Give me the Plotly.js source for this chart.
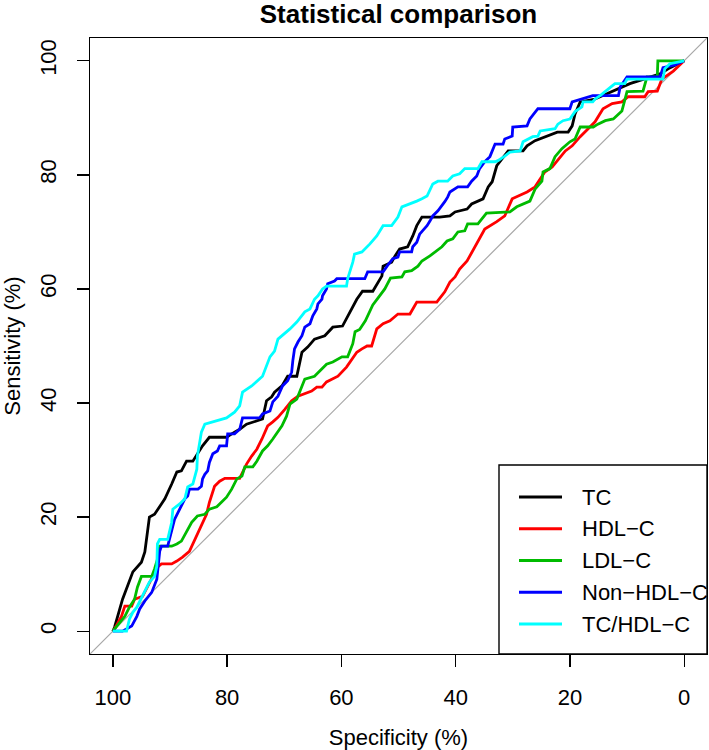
<!DOCTYPE html>
<html>
<head>
<meta charset="utf-8">
<script src="https://cdn.plot.ly/plotly-3.0.1.min.js"></script>
<style>html,body{margin:0;padding:0;background:#fff;}#chart{width:709px;height:750px;}</style>
</head>
<body>
<div id="chart"></div>
<script>
// ---- Data: [specificity %, sensitivity %] ----
const seriesNames = ["TC", "HDL\u2212C", "LDL\u2212C", "Non\u2212HDL\u2212C", "TC/HDL\u2212C"];
const seriesColors = ["#000000", "#ff0000", "#00bb00", "#0000ff", "#00ffff"];

const tcPoints = [[100,0],[99.7,0.7],[98.3,5.6],[96.5,10.4],[95.0,12.1],[94.4,13.9],[93.6,20.0],[92.7,20.5],[91.5,22.3],[90.9,23.2],[89.7,25.8],[88.8,27.9],[88.0,28.1],[87.1,29.8],[86.0,29.8],[84.8,31.6],[84.3,32.5],[83.1,34.0],[80.1,34.0],[79.2,34.6],[77.8,35.4],[76.6,36.3],[73.8,37.2],[73.1,40.4],[72.2,41.1],[71.7,41.9],[70.4,43.0],[69.4,44.7],[67.8,44.7],[66.9,48.9],[65.9,49.8],[64.7,51.2],[62.9,51.8],[61.5,53.3],[59.8,53.5],[57.3,58.2],[56.3,59.6],[54.5,59.6],[52.9,62.3],[52.7,64.0],[51.2,64.7],[50.6,65.8],[49.8,67.0],[48.4,67.4],[47.5,69.3],[46.8,71.1],[45.9,72.6],[42.8,72.6],[41.0,72.8],[40.1,73.5],[38.0,74.0],[37.2,74.9],[36.1,75.4],[35.2,75.8],[34.3,77.9],[33.6,78.8],[32.8,81.6],[31.9,82.8],[30.8,84.2],[28.2,84.2],[27.5,85.1],[26.1,86.0],[24.0,86.8],[22.2,87.5],[20.3,87.5],[19.6,88.6],[19.1,90.7],[18.2,92.8],[15.6,93.3],[12.9,94.5],[9.5,96.0],[4.2,97.7],[2.8,98.6],[0,100]];

const hdlPoints = [[100,0],[99.7,0.4],[98.5,2.6],[97.9,4.4],[96.7,4.4],[96.2,5.6],[94.8,6.1],[93.9,7.9],[93.0,9.6],[92.2,11.2],[91.5,11.8],[89.7,11.8],[88.8,12.3],[87.8,13.0],[86.6,14.0],[85.3,16.7],[84.5,18.4],[83.6,20.5],[83.1,22.6],[82.2,25.4],[81.3,26.3],[80.4,26.8],[77.8,26.8],[77.3,27.9],[76.6,29.3],[75.7,30.7],[74.8,31.9],[73.9,33.7],[72.9,36.0],[72.0,36.7],[71.1,37.5],[69.9,38.9],[68.7,40.4],[67.6,41.2],[66.4,41.6],[65.2,42.1],[64.3,42.8],[63.4,42.8],[62.6,43.7],[61.5,44.2],[60.6,44.7],[59.1,46.3],[58.5,47.2],[57.3,48.9],[56.4,49.5],[55.5,50.0],[54.7,50.0],[53.8,53.0],[52.7,53.9],[51.5,54.4],[50.1,55.6],[48.0,55.6],[46.8,57.7],[43.3,57.7],[41.9,59.5],[41.0,61.2],[40.1,62.1],[39.3,63.5],[38.0,64.9],[36.6,67.5],[35.4,69.6],[34.9,70.5],[32.8,71.8],[31.4,72.8],[30.1,75.8],[27.5,77.0],[26.1,77.9],[24.4,80.5],[23.1,81.4],[21.7,83.2],[20.8,84.2],[19.6,85.1],[18.2,86.7],[16.8,88.1],[15.6,89.3],[14.2,91.6],[12.6,92.5],[10.9,92.8],[9.8,93.7],[6.9,93.7],[6.3,94.6],[4.7,94.7],[3.9,96.8],[1.9,98.2],[0,100]];

const ldlPoints = [[100,0],[99.7,0.4],[98.8,1.6],[97.9,2.6],[97.1,4.2],[96.2,5.6],[95.7,7.7],[95.0,9.6],[93.2,9.6],[92.7,10.9],[92.2,12.6],[91.8,14.9],[89.7,14.9],[88.8,15.3],[88.0,15.8],[87.1,17.4],[86.2,19.1],[85.2,20.2],[83.9,20.5],[83.1,21.4],[81.8,21.8],[81.0,22.6],[80.1,23.5],[79.2,24.9],[78.3,26.7],[77.4,27.2],[76.9,28.8],[75.5,28.8],[74.8,29.8],[73.8,31.6],[72.9,32.5],[72.0,33.7],[70.4,36.0],[69.6,37.7],[69.0,39.8],[67.8,40.7],[66.9,42.8],[66.4,44.2],[64.7,44.7],[63.4,46.0],[62.6,46.8],[61.5,47.2],[59.9,48.1],[58.9,48.1],[58.0,50.4],[57.6,52.5],[56.8,52.9],[55.8,54.4],[54.5,57.2],[53.6,58.4],[52.4,60.0],[51.4,61.9],[49.4,62.1],[48.9,63.0],[47.7,63.2],[46.6,64.0],[45.9,64.9],[44.5,65.8],[43.6,66.5],[42.4,67.4],[41.5,68.4],[40.5,68.8],[39.6,70.0],[38.4,70.2],[37.9,71.4],[36.1,71.4],[34.6,73.3],[30.5,73.5],[29.3,74.4],[28.2,74.9],[27.0,75.4],[26.1,77.5],[24.9,78.9],[24.7,80.5],[23.5,81.1],[22.6,83.2],[21.4,84.6],[20.0,85.8],[19.1,86.3],[18.2,88.4],[15.9,88.4],[15.1,88.9],[13.8,89.5],[12.4,89.8],[11.7,90.4],[10.9,91.2],[10.0,94.6],[7.2,94.7],[6.5,97.2],[4.7,97.2],[4.6,100],[0,100]];

const nonHdlPoints = [[100,0],[98.3,0],[96.7,0.9],[95.8,2.6],[95.3,3.9],[94.4,5.3],[93.2,6.8],[92.7,8.2],[92.3,9.1],[91.8,14.0],[91.5,14.9],[90.4,14.9],[89.7,17.4],[89.2,19.6],[88.3,21.4],[87.4,23.2],[86.9,23.7],[86.6,24.9],[85.1,24.9],[84.5,25.4],[84.3,26.7],[83.9,27.5],[83.4,28.1],[83.1,29.6],[82.5,31.1],[81.7,31.6],[81.3,32.5],[80.1,32.5],[79.9,34.6],[78.7,34.6],[77.8,35.4],[77.3,37.4],[74.3,37.4],[73.8,38.1],[72.5,38.6],[72.0,40.2],[71.1,41.2],[70.3,43.0],[69.4,43.9],[68.7,45.4],[68.5,47.4],[68.2,49.5],[67.6,50.7],[66.9,51.8],[66.4,53.3],[65.5,53.9],[65.0,55.3],[64.3,56.5],[64.1,57.4],[63.4,58.2],[63.3,58.8],[62.6,60.0],[62.4,60.9],[61.2,61.4],[60.8,61.8],[55.9,61.8],[55.4,63.0],[52.7,63.0],[52.0,64.0],[51.5,64.7],[51.0,65.3],[50.1,65.6],[49.8,66.5],[47.7,66.5],[47.5,67.4],[46.8,68.2],[46.3,69.6],[45.8,70.2],[45.0,71.1],[44.5,71.9],[44.0,72.8],[43.1,73.7],[42.4,74.6],[41.9,75.3],[41.4,76.1],[41.0,77.0],[39.6,77.9],[37.9,77.9],[37.2,78.9],[36.3,79.8],[35.8,81.1],[34.9,82.3],[34.0,83.2],[33.5,84.6],[33.1,85.4],[31.7,85.4],[31.4,86.3],[30.1,86.8],[30.0,88.4],[27.5,88.6],[27.0,89.8],[25.6,91.6],[20.0,91.6],[19.6,92.8],[16.0,93.9],[11.5,93.9],[11.2,95.4],[10.0,97.2],[4.2,97.2],[3.7,98.8],[1.6,99.3],[0,100]];

const tcHdlPoints = [[100,0],[97.6,0],[97.1,2.1],[96.5,3.3],[95.8,4.2],[94.8,6.1],[94.1,7.4],[93.6,8.6],[92.7,9.6],[92.3,11.4],[92.2,15.3],[91.8,16.1],[90.4,16.1],[89.7,19.1],[89.5,21.4],[88.3,22.3],[87.4,23.2],[86.9,25.3],[86.0,25.8],[85.3,28.4],[85.2,30.7],[84.8,33.2],[84.5,34.9],[83.9,36.3],[82.2,36.8],[80.1,37.4],[78.7,38.4],[77.8,39.5],[77.3,41.9],[75.7,43.0],[73.8,44.7],[72.5,48.1],[71.7,49.1],[71.1,51.2],[69.0,53.0],[67.8,54.2],[66.4,56.0],[65.5,56.5],[64.7,58.2],[64.1,58.8],[63.3,60.0],[62.6,60.5],[59.1,60.5],[58.9,61.8],[58.0,64.7],[57.7,66.1],[56.4,66.5],[55.0,67.9],[53.8,69.3],[52.7,71.1],[51.2,71.1],[50.1,72.6],[49.4,74.4],[48.0,74.9],[46.8,75.4],[45.9,75.8],[45.0,76.3],[44.0,78.4],[43.1,78.9],[41.4,78.9],[40.5,79.8],[39.3,80.2],[38.4,81.1],[36.1,81.1],[35.4,82.3],[33.1,82.3],[32.6,82.5],[31.4,83.3],[30.5,84.0],[28.7,84.2],[28.2,85.8],[26.5,86.7],[25.6,86.8],[25.2,87.7],[22.6,88.1],[22.1,88.9],[21.2,89.5],[20.0,89.8],[19.1,91.1],[17.9,91.9],[17.7,92.8],[16.0,92.8],[15.6,93.3],[14.7,93.9],[13.9,94.6],[13.3,95.1],[12.6,95.6],[12.1,96.0],[10.4,96.0],[10.0,96.8],[3.7,96.8],[3.4,98.6],[2.5,99.5],[0,100]];

// chance (diagonal) reference line, spanning the whole plot region
const chanceSpec = [104, -4];
const chanceSens = [-4, 104];

const tickValues = [0, 20, 40, 60, 80, 100];
const tickLabels = ["0", "20", "40", "60", "80", "100"];

// ---- Build ----
const allPoints = [tcPoints, hdlPoints, ldlPoints, nonHdlPoints, tcHdlPoints];
const FONT = "Liberation Sans, Arial, Helvetica, sans-serif";

const traces = [{
  x: chanceSpec, y: chanceSens, mode: "lines", type: "scatter",
  line: {color: "#a8a8a8", width: 1.2}, hoverinfo: "skip", showlegend: false
}];
allPoints.forEach((pts, i) => {
  traces.push({
    x: pts.map(p => p[0]), y: pts.map(p => p[1]),
    mode: "lines", type: "scatter", name: seriesNames[i],
    line: {color: seriesColors[i], width: 2.8, shape: "linear"},
    showlegend: false
  });
});

// plot-area geometry (pixels) used to place the hand-drawn legend
const M = {l: 90, r: 2, t: 38, b: 96};
const W = 709, H = 750;
const pw = W - M.l - M.r, ph = H - M.t - M.b;
const px2paperX = px => (px - M.l) / pw;
const py2paperY = py => (H - M.b - py) / ph;

const shapes = [{
  type: "rect", xref: "paper", yref: "paper",
  x0: px2paperX(499), x1: 1, y0: 0, y1: py2paperY(465),
  line: {color: "black", width: 1.4}, fillcolor: "white", layer: "above"
}];
const annotations = [];
const rowTop = 497, rowStep = 31.75;
seriesNames.forEach((nm, i) => {
  const yy = py2paperY(rowTop + i * rowStep);
  shapes.push({
    type: "line", xref: "paper", yref: "paper",
    x0: px2paperX(519), x1: px2paperX(562), y0: yy, y1: yy,
    line: {color: seriesColors[i], width: 2.8}, layer: "above"
  });
  annotations.push({
    xref: "paper", yref: "paper", x: px2paperX(580), y: yy,
    xanchor: "left", yanchor: "middle", text: nm, showarrow: false,
    font: {family: FONT, size: 22, color: "black"}
  });
});

const axisCommon = {
  tickvals: tickValues, ticktext: tickLabels,
  ticks: "outside", ticklen: 12, tickwidth: 1.3, tickcolor: "black",
  showline: true, linecolor: "black", linewidth: 1.4, mirror: true,
  showgrid: false, zeroline: false,
  tickfont: {family: FONT, size: 22, color: "black"}
};

const layout = {
  width: W, height: H, margin: M,
  paper_bgcolor: "white", plot_bgcolor: "white",
  font: {family: FONT, color: "black"},
  showlegend: false,
  title: {
    text: "Statistical comparison", xref: "paper", x: 0.5, xanchor: "center",
    yref: "container", y: 0.981, yanchor: "middle",
    font: {family: FONT, size: 26, weight: "bold", color: "black"}
  },
  xaxis: Object.assign({}, axisCommon, {
    range: [104, -4], ticklabelstandoff: 11,
    title: {text: "Specificity (%)", standoff: 21, font: {family: FONT, size: 22, color: "black"}}
  }),
  yaxis: Object.assign({}, axisCommon, {
    range: [-4, 104], tickangle: -90, ticklabelstandoff: 12,
    title: {text: "Sensitivity (%)", standoff: 14, font: {family: FONT, size: 22, color: "black"}}
  }),
  shapes: shapes, annotations: annotations
};

Plotly.newPlot("chart", traces, layout, {displayModeBar: false, staticPlot: true});
</script>
</body>
</html>
